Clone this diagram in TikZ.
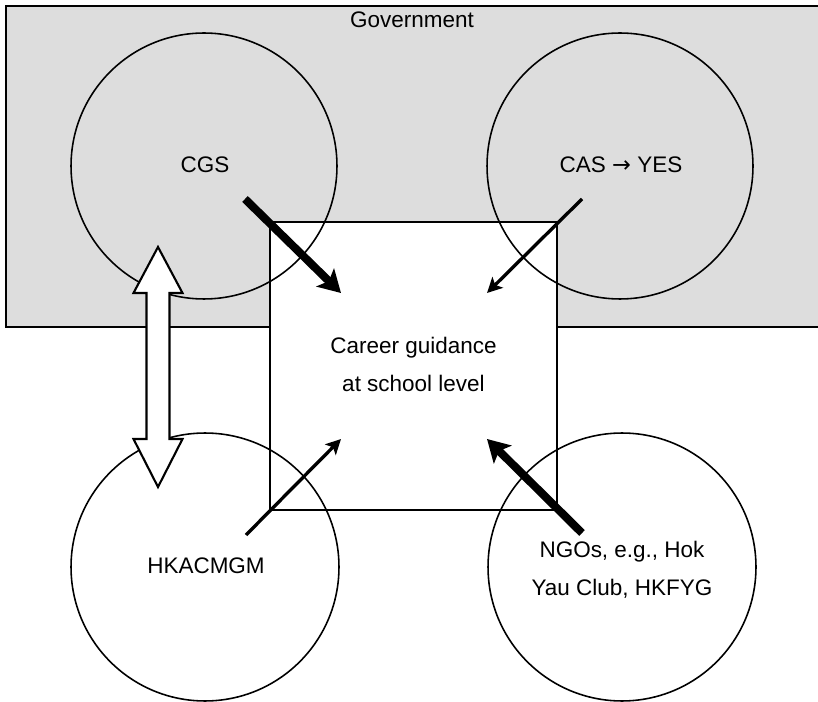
\documentclass[tikz,border=0pt]{standalone}
\usepackage{fontspec}
\setmainfont{Liberation Sans}
\newfontfamily\arrowfont{DejaVu Sans}
\usepackage{xcolor}
\definecolor{govgray}{RGB}{221,221,221}
\usetikzlibrary{arrows.meta}
\usetikzlibrary{positioning}
\usetikzlibrary{calc}

\tikzset{
  body/.style={circle, draw, line width=0.9pt, inner sep=0pt, minimum size=5.32cm},
  thickarrow/.style={line width=4.6pt, -{Stealth[length=0.44cm, width=0.5cm, inset=0.1cm]}},
  thinarrow/.style={line width=1.9pt, -{Stealth[length=0.3cm, width=0.3cm, inset=0.07cm]}},
  txt/.style={font=\fontsize{12.8pt}{21.6pt}\selectfont, align=center}
}

\begin{document}
\begin{tikzpicture}[x=0.02cm, y=-0.02cm]
\useasboundingbox (0,0) rectangle (818,702);

% Government
  \draw[fill=govgray, line width=1.1pt] (6,6) rectangle (830,327);
  \node[txt] (govt) at (412,20) {Government};

% school level
  \node[draw, fill=white, line width=1.1pt, minimum width=5.74cm, minimum height=5.76cm] (school) at (413.5,366) {};
  \node[txt] (schooltext) at (413.5,364) {Career guidance\\at school level};

% circles
  \node[body] (cgs) at (204,166) {};
  \node[body] (cas) at (620,166) {};
  \node[body, minimum size=5.36cm] (hka) at (205,567) {};
  \node[body, minimum size=5.36cm] (ngo) at (622,567) {};

  \node[txt] (cgstext) at (205,165) {CGS};
  \node[txt] (castext) at (621,165) {CAS {\arrowfont →} YES};
  \node[txt] (hkatext) at (206,566) {HKACMGM};
  \node[txt] (ngotext) at (622,570) {NGOs, e.g., Hok\\Yau Club, HKFYG};

% CGS <-> HKACMGM
  \coordinate (link) at (158,367);
  \draw[fill=white, line width=1.2pt, line join=miter]
    ($(link)+(0,-120)$) -- ++(24.5,46) -- ++(-13,0) -- ++(0,146) -- ++(13,0)
    -- ++(-24.5,48) -- ++(-24.5,-48) -- ++(13,0) -- ++(0,-146) -- ++(-13,0) -- cycle;

% arrows into the school
  \coordinate (cgs-out) at (245,199);
  \coordinate (cas-out) at (582,199);
  \coordinate (hka-out) at (246,535);
  \coordinate (ngo-out) at (582,533);
  \coordinate (school-nw) at (341,293);
  \coordinate (school-ne) at (487,293);
  \coordinate (school-sw) at (341,439);
  \coordinate (school-se) at (487,439);

  \draw[thickarrow] (cgs-out) -- (school-nw);
  \draw[thinarrow] (cas-out) -- (school-ne);
  \draw[thinarrow] (hka-out) -- (school-sw);
  \draw[thickarrow] (ngo-out) -- (school-se);

\end{tikzpicture}
\end{document}
